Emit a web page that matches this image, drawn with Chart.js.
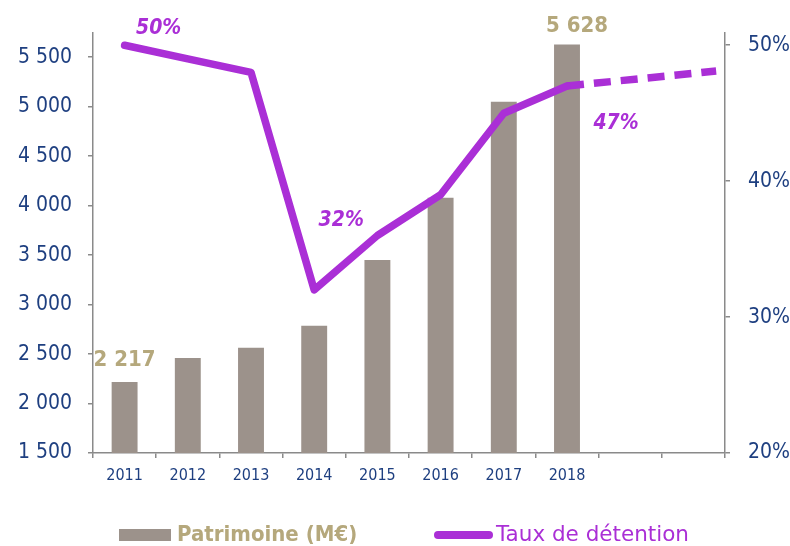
<!DOCTYPE html>
<html>
<head>
<meta charset="utf-8">
<script src="https://cdn.jsdelivr.net/npm/chart.js@4/dist/chart.umd.min.js"></script>
<style>
  body { margin: 0; background: #fff; }
  #wrap { position: relative; width: 790px; height: 546px; }
  #legend { position: absolute; left: 0; top: 522px; width: 790px; height: 26px; }
  .item { position: absolute; top: 0; height: 26px; display: flex; align-items: center; white-space: nowrap; }
  .box { display: inline-block; }
  .txt { position: relative; top: -2px; }
</style>
</head>
<body>
<div id="wrap">
  <canvas id="myChart" width="790" height="546"></canvas>
  <div id="legend">
    <div class="item" style="left:119px;">
      <span class="box" style="width:52px;height:12px;background:#9c928b;"></span>
      <span class="txt" style="color:#b5a87c;font:bold 22px 'DejaVu Sans Condensed', 'DejaVu Sans', sans-serif;margin-left:6px;">Patrimoine (M€)</span>
    </div>
    <div class="item" style="left:434px;">
      <span class="box" style="width:59px;height:8px;border-radius:4px;background:#aa2fd6;"></span>
      <span class="txt" style="color:#aa2fd6;font:21.5px 'DejaVu Sans', sans-serif;margin-left:3px;">Taux de détention</span>
    </div>
  </div>
</div>
<script>
let years = ['2011', '2012', '2013', '2014', '2015', '2016', '2017', '2018', '', ''];
let patrimoine = [2217, 2460, 2565, 2785, 3450, 4080, 5050, 5628];
let taux = [50, 49, 48, 32, 36, 39, 45, 47];
let tauxProjection = [{ x: 7, y: 47 }, { x: 9.36, y: 48.1 }];
let leftTicks = [1500, 2000, 2500, 3000, 3500, 4000, 4500, 5000, 5500];
let rightTicks = [20, 30, 40, 50];

// labels drawn on the chart
let barLabels = [{ i: 0, text: '2 217' }, { i: 7, text: '5 628' }];
let pctLabels = [{ i: 0, text: '50%' }, { i: 3, text: '32%' }, { i: 7, text: '47%' }];

const gold = '#b5a87c';
const purple = '#aa2fd6';
const blue = '#1e3f80';
const axisGrey = '#8a8a8a';
const font = "'DejaVu Sans Condensed', 'DejaVu Sans', sans-serif";

const labelPlugin = {
  id: 'labels',
  afterDatasetsDraw(chart) {
    let ctx = chart.ctx;
    let x = chart.scales.x;
    let yl = chart.scales.y;
    let yr = chart.scales.y2;
    ctx.save();
    ctx.textAlign = 'center';
    ctx.textBaseline = 'alphabetic';

    // value labels above bars
    let barOff = { 0: [0, -16], 7: [10, -13] };
    barLabels.forEach((l) => {
      let px = x.getPixelForValue(l.i) + barOff[l.i][0];
      let py = yl.getPixelForValue(patrimoine[l.i]) + barOff[l.i][1];
      ctx.font = 'bold 22px ' + font;
      ctx.fillStyle = gold;
      ctx.fillText(l.text, px, py);
    });

    // percent labels next to the line
    let pctOff = { 0: [34, -11], 3: [27, -64], 7: [49, 43] };
    pctLabels.forEach((l) => {
      let px = x.getPixelForValue(l.i) + pctOff[l.i][0];
      let py = yr.getPixelForValue(taux[l.i]) + pctOff[l.i][1];
      ctx.font = 'italic bold 21px ' + font;
      ctx.fillStyle = purple;
      ctx.fillText(l.text, px, py);
    });
    ctx.restore();
  },
};

new Chart(document.getElementById('myChart'), {
  type: 'bar',
  data: {
    labels: years,
    datasets: [
      {
        type: 'line',
        label: 'Taux de détention',
        data: taux,
        yAxisID: 'y2',
        borderColor: purple,
        borderWidth: 7.5,
        borderCapStyle: 'round',
        borderJoinStyle: 'round',
        pointRadius: 0,
        tension: 0,
        order: 0,
      },
      {
        type: 'line',
        label: 'projection',
        data: tauxProjection,
        xAxisID: 'x2',
        yAxisID: 'y2',
        borderColor: purple,
        borderWidth: 7.5,
        borderDash: [17, 10],
        pointRadius: 0,
        order: 1,
      },
      {
        type: 'bar',
        label: 'Patrimoine (M€)',
        data: patrimoine,
        yAxisID: 'y',
        backgroundColor: '#9c928b',
        grouped: false,
        barPercentage: 0.41,
        categoryPercentage: 1,
        order: 2,
      },
    ],
  },
  options: {
    responsive: false,
    animation: false,
    layout: { padding: { top: 33, left: 0, right: 0, bottom: 0 } },
    plugins: {
      legend: { display: false },
      tooltip: { enabled: false },
    },
    scales: {
      x: {
        type: 'category',
        offset: true,
        grid: { offset: true, drawOnChartArea: false, tickLength: 5, color: axisGrey, lineWidth: 1.5 },
        border: { color: axisGrey, width: 1.5 },
        ticks: { color: blue, font: { family: font, size: 16 }, padding: 8, maxRotation: 0, autoSkip: false },
        afterFit: (s) => { s.height = 93; },
      },
      x2: {
        type: 'linear',
        display: false,
        min: -0.5,
        max: 9.5,
        offset: false,
      },
      y: {
        position: 'left',
        min: 1500,
        max: 5745,
        grid: { drawOnChartArea: false, tickLength: 5, color: axisGrey, lineWidth: 1.5 },
        border: { color: axisGrey, width: 1.5 },
        ticks: {
          color: blue,
          padding: 16,
          font: { family: font, size: 21 },
          callback: (v) => String(v).replace(/\B(?=(\d{3})+(?!\d))/g, ' '),
        },
        afterBuildTicks: (s) => { s.ticks = leftTicks.map((v) => ({ value: v })); },
        afterFit: (s) => { s.width = 93; },
      },
      y2: {
        position: 'right',
        min: 20,
        max: 50.9,
        grid: { drawOnChartArea: false, tickLength: 5, color: axisGrey, lineWidth: 1.5 },
        border: { color: axisGrey, width: 1.5 },
        ticks: {
          color: blue,
          padding: 18,
          font: { family: font, size: 21 },
          callback: (v) => v + '%',
        },
        afterBuildTicks: (s) => { s.ticks = rightTicks.map((v) => ({ value: v })); },
        afterFit: (s) => { s.width = 65; },
      },
    },
  },
  plugins: [labelPlugin],
});
</script>
</body>
</html>
